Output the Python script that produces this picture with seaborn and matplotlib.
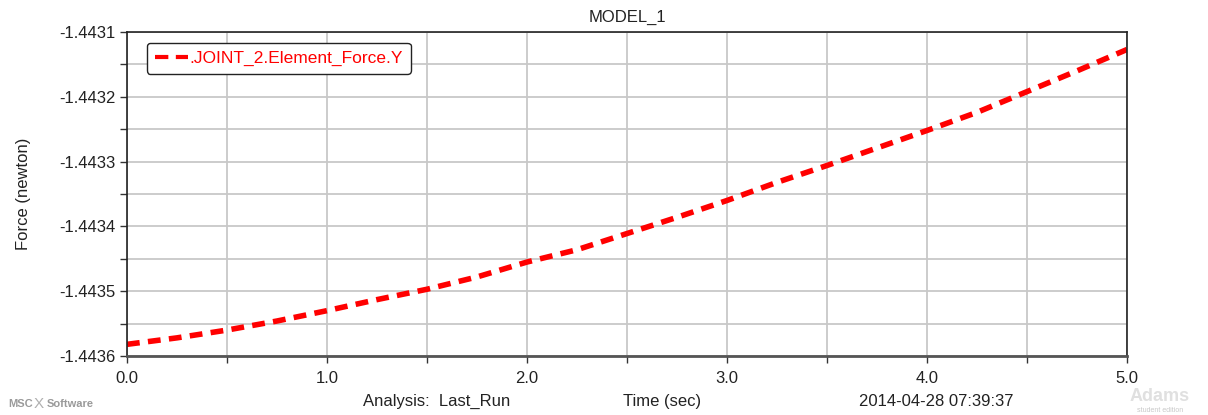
import matplotlib
matplotlib.use("Agg")
import matplotlib.pyplot as plt
import seaborn as sns
import pandas as pd
from matplotlib.ticker import MultipleLocator, FixedLocator, FuncFormatter
from matplotlib.lines import Line2D

time_sec = [0.0, 0.25, 0.5, 0.75, 1.0, 1.25, 1.5, 1.75, 2.0, 2.25, 2.5,
            2.75, 3.0, 3.25, 3.5, 3.75, 4.0, 4.25, 4.5, 4.75, 5.0]
force_y = [-1.443582, -1.443572, -1.443560, -1.443546, -1.443530, -1.443513,
           -1.443497, -1.443478, -1.443455, -1.443436, -1.443411, -1.443386,
           -1.443360, -1.443332, -1.443306, -1.443279, -1.443252, -1.443224,
           -1.443192, -1.443160, -1.443127]
series_name = ".JOINT_2.Element_Force.Y"
y_major = [-1.4436, -1.4435, -1.4434, -1.4433, -1.4432, -1.4431]
x_major = [0.0, 1.0, 2.0, 3.0, 4.0, 5.0]

sns.set_theme(style="white")
plt.rcParams['font.family'] = ['Liberation Sans', 'DejaVu Sans']

df = pd.DataFrame({"t": time_sec, "f": force_y, "s": series_name})

fig = plt.figure(figsize=(12.08, 4.15), dpi=100)
ax = fig.add_axes([127/1208, 1-356/415, 1000/1208, 324/415])

sns.lineplot(data=df, x="t", y="f", hue="s", palette=["#ff0000"], ax=ax,
             linewidth=4, dashes=False, legend=False)
ln = ax.lines[0]
ln.set_linestyle((0, (2.3, 1.5)))
ln.set_dash_capstyle("butt")

ax.set_xlim(0, 5)
ax.set_ylim(-1.4436, -1.4431)
ax.xaxis.set_major_locator(FixedLocator(x_major))
ax.xaxis.set_minor_locator(MultipleLocator(0.5))
ax.yaxis.set_major_locator(FixedLocator(y_major))
ax.yaxis.set_minor_locator(MultipleLocator(0.00005))
ax.xaxis.set_major_formatter(FuncFormatter(lambda v, p: f"{v:.1f}"))
ax.yaxis.set_major_formatter(FuncFormatter(lambda v, p: f"{v:.4f}"))
ax.grid(True, which="both", color="#c8c8c8", linewidth=1.3)
ax.set_axisbelow(True)
ax.tick_params(axis="both", which="both", direction="out", length=5, width=1,
               color="#333333", labelsize=12, labelcolor="#222222",
               left=True, bottom=True)
ax.tick_params(axis="x", pad=6)
for s in ax.spines.values():
    s.set_color("#222222")
    s.set_linewidth(1.2)
ax.spines["bottom"].set_color("#555555")
ax.spines["bottom"].set_linewidth(2)

ax.set_xlabel("")
ax.set_ylabel("Force (newton)", fontsize=12, color="#222222", labelpad=20)
ax.set_title("MODEL_1", fontsize=12, color="#222222", pad=7)

h = Line2D([], [], color="#ff0000", linewidth=3, linestyle=(0, (3.2, 1.8)),
           dash_capstyle="butt")
leg = ax.legend([h], [series_name], loc="upper left",
                bbox_to_anchor=(20/1000, 1-11/324),
                fontsize=12.5, frameon=True, fancybox=True, handlelength=1.9,
                handletextpad=0.1, borderpad=0.45, borderaxespad=0,
                labelcolor="#ff0000")
leg.get_frame().set_edgecolor("#222222")
leg.get_frame().set_linewidth(1.0)
leg.get_frame().set_alpha(1)

fig.text(437/1208, 1-401/415, "Analysis:  Last_Run", ha="center", va="center",
         fontsize=12, color="#222222")
fig.text(662/1208, 1-401/415, "Time (sec)", ha="center", va="center",
         fontsize=12, color="#222222")
fig.text(936/1208, 1-401/415, "2014-04-28 07:39:37", ha="center", va="center",
         fontsize=12, color="#222222")
fig.text(8/1208, 1-404/415, "MSC", ha="left", va="center", fontsize=8,
         color="#9a9a9a", fontweight="bold")
fig.text(34/1208, 1-404/415, "X", ha="left", va="center", fontsize=11,
         color="#b0b0b0")
fig.text(47/1208, 1-404/415, "Software", ha="left", va="center", fontsize=8,
         color="#9a9a9a", fontweight="bold")
fig.text(1160/1208, 1-396/415, "Adams", ha="center", va="center", fontsize=13,
         color="#e0e0e0", fontweight="bold")
fig.text(1160/1208, 1-410/415, "student edition", ha="center", va="center", fontsize=5,
         color="#c8c8c8")

fig.savefig("out.png", dpi=100)
